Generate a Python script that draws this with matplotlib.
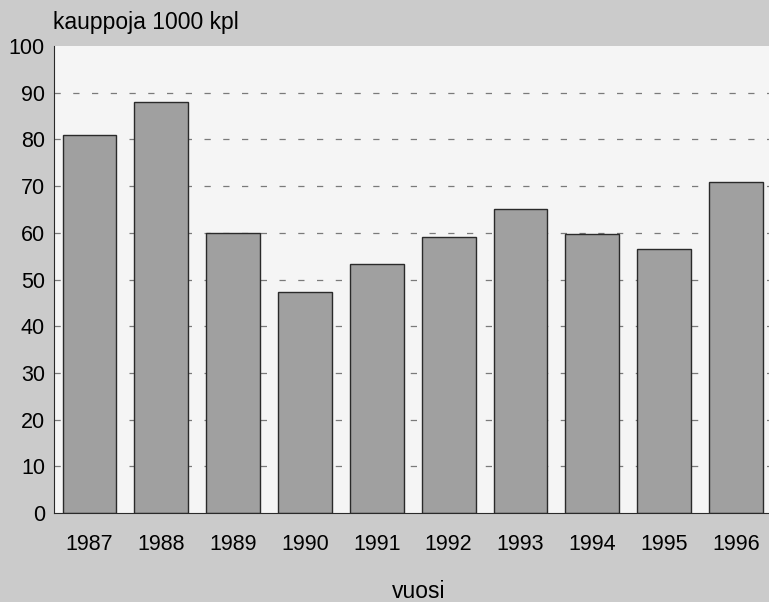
import matplotlib.pyplot as plt

# Data
years = ['1987', '1988', '1989', '1990', '1991', '1992', '1993', '1994', '1995', '1996']
kaupat = [81, 88, 60, 47.3, 53.4, 59.2, 65, 59.7, 56.6, 70.8]
y_ticks = [0, 10, 20, 30, 40, 50, 60, 70, 80, 90, 100]

plt.rcParams['font.family'] = ['Liberation Sans', 'DejaVu Sans']

fig = plt.figure(figsize=(7.69, 6.02), dpi=100)
fig.patch.set_facecolor('#cbcbcb')
ax = fig.add_axes([0.0702, 0.1478, 0.9298, 0.7757])
ax.set_facecolor('#f5f5f5')

# Dashed gridlines behind bars
for v in y_ticks[1:-1]:
    ax.axhline(v, color='#7a7a7a', linestyle=(0, (5, 10)), linewidth=0.9, zorder=1)

ax.bar(range(len(years)), kaupat, width=0.75, color='#a0a0a0',
       edgecolor='#2a2a2a', linewidth=1.0, zorder=2)

ax.set_xlim(-0.494, 9.46)
ax.set_ylim(0, 100)
ax.set_yticks(y_ticks)
ax.set_yticklabels([str(v) for v in y_ticks], fontsize=15.5)
ax.set_xticks(range(len(years)))
ax.set_xticklabels(years, fontsize=15.5)
ax.tick_params(axis='x', length=0, pad=15)
ax.tick_params(axis='y', length=0, pad=6.5)

for side in ['top', 'right']:
    ax.spines[side].set_visible(False)
ax.spines['left'].set_color('#2a2a2a')
ax.spines['bottom'].set_color('#2a2a2a')

fig.text(0.069, 0.963, 'kauppoja 1000 kpl', fontsize=16.5, va='center', ha='left')
fig.text(0.545, 0.018, 'vuosi', fontsize=16.5, va='center', ha='center')

plt.savefig('out.png', dpi=100, facecolor=fig.get_facecolor())
